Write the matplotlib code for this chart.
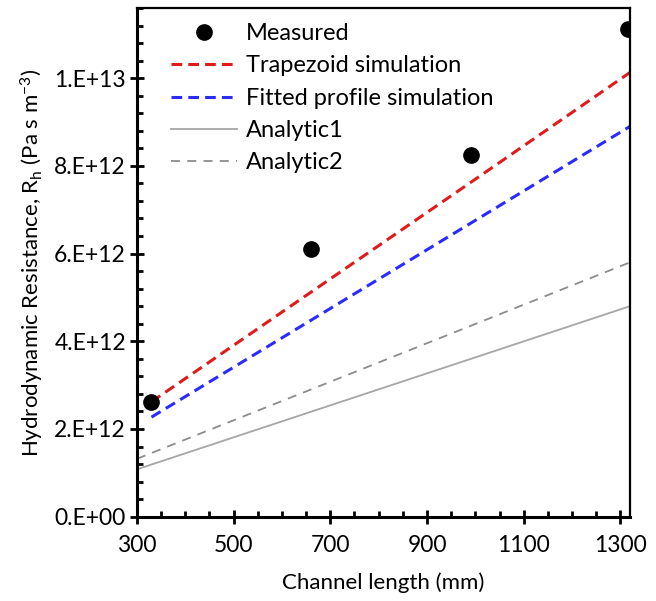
import matplotlib.pyplot as plt
from matplotlib.ticker import MultipleLocator, FuncFormatter

plt.rcParams['font.family'] = ['Lato', 'DejaVu Sans']
plt.rcParams['mathtext.default'] = 'regular'

#---datos-------------------------------------------------------------
length = [328, 660, 990, 1316]
measured = [2.61e12, 6.10e12, 8.25e12, 1.111e13]

sim_len = [330, 660, 990, 1320]
trapezoid = [2.62e12, 5.12e12, 7.62e12, 1.013e13]
fitted = [2.27e12, 4.48e12, 6.69e12, 8.90e12]

an_len = [300, 1320]
analytic1 = [1.08e12, 4.80e12]
analytic2 = [1.32e12, 5.80e12]

x_ticks = [300, 500, 700, 900, 1100, 1300]

#---figura------------------------------------------------------------
fig = plt.figure(figsize=(6.56, 6.01), dpi=100)
ax = fig.add_axes([0.2088, 0.1403, 0.7516, 0.8464])

ax.plot(length, measured, 'o', color='black', markersize=11, label='Measured', zorder=5)
ax.plot(sim_len, trapezoid, color='#e01b1b', lw=2.2, dashes=(3.5, 2), label='Trapezoid simulation')
ax.plot(sim_len, fitted, color='#2b2bff', lw=2.2, dashes=(3.5, 2), label='Fitted profile simulation')
ax.plot(an_len, analytic1, color='#a6a6a6', lw=1.3, label='Analytic1')
ax.plot(an_len, analytic2, color='#8c8c8c', lw=1.3, dashes=(5, 4), label='Analytic2')

ax.set_xlim(300, 1320)
ax.set_ylim(0, 1.16e13)
ax.set_xticks(x_ticks)
ax.set_xticks(range(300, 1320, 50), minor=True)
ax.yaxis.set_major_locator(MultipleLocator(2e12))
ax.yaxis.set_minor_locator(MultipleLocator(4e11))

def sci(v, pos):
    if v == 0:
        return '0.E+00'
    e = len(str(int(round(v)))) - 1
    return '%d.E+%d' % (round(v / 10**e), e)

ax.yaxis.set_major_formatter(FuncFormatter(sci))

ax.tick_params(which='major', direction='inout', length=10, width=2, labelsize=16.5, pad=3)
ax.tick_params(which='minor', direction='in', length=4.5, width=2)
ax.tick_params(axis='x', pad=8)
for s in ['left', 'bottom']:
    ax.spines[s].set_linewidth(2.2)
for s in ['top', 'right']:
    ax.spines[s].set_linewidth(1.6)

ax.set_xlabel('Channel length (mm)', fontsize=16, labelpad=12)
ax.set_ylabel('Hydrodynamic Resistance, R$_h$ (Pa s m$^{-3}$)', fontsize=16, labelpad=6)

ax.legend(loc='upper left', frameon=False, fontsize=17, handlelength=2.8,
          handletextpad=0.4, labelspacing=0.48, bbox_to_anchor=(0.025, 1.012))

plt.savefig('out.png', dpi=100)
